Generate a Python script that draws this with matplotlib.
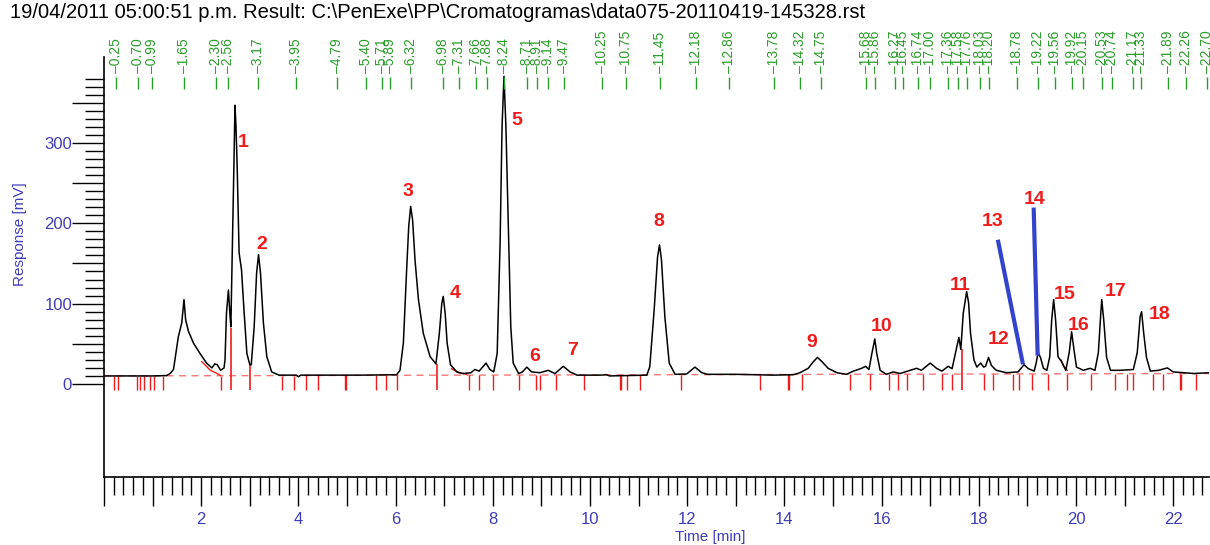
import matplotlib
matplotlib.use("Agg")
import matplotlib.pyplot as plt
from matplotlib.transforms import blended_transform_factory

plt.rcParams['font.family'] = ['Liberation Sans', 'DejaVu Sans']

# chromatogram trace (time in min, response in mV)
trace_t = [0.0, 1.0, 1.29, 1.36, 1.43, 1.53, 1.60, 1.646, 1.68, 1.735, 1.84, 1.975, 2.11, 2.22,
           2.28, 2.33, 2.40, 2.47, 2.49, 2.52, 2.56, 2.59, 2.61, 2.65, 2.675, 2.695, 2.716, 2.74,
           2.78, 2.83, 2.88, 2.94, 3.00, 3.03, 3.09, 3.14, 3.18, 3.22, 3.28, 3.35, 3.45, 3.60,
           3.95, 4.0, 4.05, 5.27, 6.02, 6.09, 6.16, 6.23, 6.27, 6.31, 6.35, 6.40, 6.47, 6.57,
           6.71, 6.83, 6.90, 6.95, 6.98, 7.02, 7.06, 7.13, 7.26, 7.39, 7.55, 7.63, 7.72, 7.86,
           7.94, 8.02, 8.09, 8.15, 8.19, 8.23, 8.27, 8.32, 8.37, 8.42, 8.53, 8.61, 8.70, 8.80,
           8.97, 9.14, 9.28, 9.45, 9.59, 9.73, 10.21, 10.34, 10.40, 11.17, 11.23, 11.32, 11.39,
           11.43, 11.47, 11.54, 11.63, 11.75, 11.99, 12.16, 12.30, 12.42, 13.02, 13.77, 14.18,
           14.32, 14.49, 14.60, 14.68, 14.77, 14.90, 15.08, 15.28, 15.42, 15.59, 15.67, 15.74,
           15.80, 15.86, 15.90, 15.97, 16.10, 16.24, 16.38, 16.72, 16.82, 17.00, 17.13, 17.24,
           17.37, 17.45, 17.54, 17.59, 17.63, 17.68, 17.75, 17.79, 17.83, 17.90, 17.96, 18.04,
           18.10, 18.14, 18.20, 18.26, 18.36, 18.57, 18.81, 18.93, 19.02, 19.14, 19.18, 19.22,
           19.27, 19.33, 19.40, 19.46, 19.50, 19.54, 19.58, 19.63, 19.70, 19.79, 19.86, 19.91,
           19.96, 20.01, 20.15, 20.29, 20.39, 20.46, 20.51, 20.53, 20.57, 20.63, 20.71, 20.90,
           21.18, 21.26, 21.32, 21.35, 21.39, 21.45, 21.53, 21.70, 21.88, 22.0, 22.43, 22.74]
trace_v = [10, 10, 10.5, 13, 18, 59, 76, 105, 80, 66, 51, 38, 26, 20,
           25, 24, 17, 20, 30, 88, 117, 88, 71, 196, 279, 347, 320, 271,
           163, 142, 92, 38, 24, 24, 71, 138, 161, 138, 76, 34, 15, 11,
           11, 9, 11, 11, 11.5, 17, 51, 146, 196, 221, 204, 154, 105, 63,
           34, 25, 63, 100, 109, 88, 51, 24, 15, 13, 14, 18, 16, 26,
           18, 15, 38, 175, 320, 383, 320, 196, 71, 26, 13, 15, 21, 15,
           14, 17, 13, 22, 15, 11, 11, 11.5, 10, 11, 21.5, 92, 158,
           173, 155, 84, 26, 12, 12.5, 21, 14, 12, 12, 11, 11.5,
           14, 19.5, 28, 33, 28, 19.5, 14, 12, 16, 19.5, 22, 18,
           38, 56, 38, 17, 12, 15, 13, 19.5, 17, 26, 19.5, 16,
           22, 19, 44, 58, 43, 88, 115, 101, 63, 30, 21, 26,
           21, 22, 33, 23, 17, 14, 15, 24, 19, 16, 26, 39,
           33, 19.5, 17, 34, 80, 105, 80, 34, 28, 17, 39, 65,
           42, 21, 17, 19.5, 17, 39, 88, 105, 80, 33, 17, 17,
           18, 39, 84, 90, 65, 33, 16, 17, 20, 15, 13, 14]

# retention times printed along the top
rt_labels = ['0.25', '0.70', '0.99', '1.65', '2.30', '2.56', '3.17', '3.95', '4.79', '5.40',
             '5.71', '5.89', '6.32', '6.98', '7.31', '7.66', '7.88', '8.24', '8.71', '8.91',
             '9.14', '9.47', '10.25', '10.75', '11.45', '12.18', '12.86', '13.78', '14.32',
             '14.75', '15.68', '15.86', '16.27', '16.45', '16.74', '17.00', '17.36', '17.58',
             '17.76', '18.03', '18.20', '18.78', '19.22', '19.56', '19.92', '20.15', '20.53',
             '20.74', '21.17', '21.33', '21.89', '22.26', '22.70']

# peak start / end markers below the baseline
marks_t = [0.20, 0.28, 0.67, 0.75, 0.83, 0.95, 1.02, 1.21, 2.40, 3.66, 3.90, 4.15, 4.41,
           4.96, 4.98, 5.59, 5.81, 6.03, 7.51, 7.72, 8.01, 8.54, 8.88, 8.98, 9.31, 9.88,
           10.61, 10.63, 10.76, 11.03, 11.87, 13.49, 14.08, 14.10, 14.37, 15.36, 15.76,
           16.16, 16.34, 16.52, 16.85, 17.24, 17.44, 18.11, 18.29, 18.70, 18.82, 19.09,
           19.43, 19.82, 20.30, 20.80, 21.04, 21.18, 21.58, 21.78, 22.14, 22.16, 22.47]
# drop lines at valleys (time, top)
drop_t = [2.62, 3.01, 6.85, 17.65]
drop_top = [70, 24, 25, 43]

# peak numbers
peak_names = [str(i) for i in range(1, 19)]
peak_t = [2.86, 3.25, 6.26, 7.22, 8.50, 8.87, 9.65, 11.42, 14.57, 15.99, 17.61, 18.40,
          18.29, 19.14, 19.77, 20.06, 20.82, 21.73]
peak_v = [300, 173, 240, 112, 328, 34, 42, 202, 51, 71, 123, 55, 202, 230, 111, 73, 115, 86]

# blue pointer lines for peaks 13 and 14
ptr13_t = [18.40, 18.90]
ptr13_v = [177, 27]
ptr14_t = [19.13, 19.21]
ptr14_v = [217, 38]

# skimmed baseline pieces
skim = [([2.01, 2.19, 2.39], [27.8, 17, 11]),
        ([7.15, 7.30, 7.46], [19, 14, 12]),
        ([19.69, 19.75, 19.82], [30, 22, 17])]

blue = '#3d3db8'
green = '#2a9d2a'
red = '#ee1c1c'

fig = plt.figure(figsize=(12.1, 5.45), dpi=100)
ax = fig.add_axes([104 / 1210, 1 - 477 / 545, 1105 / 1210, 420 / 545])
x_max = 1105 / 48.6
ax.set_xlim(0, x_max)
ax.set_ylim(-115.8, 407)

def base(t):
    return 10 + 3 * t / x_max

# baseline
ax.plot([0, x_max], [base(0), base(x_max)], color=red, lw=1, ls=(0, (5, 4)), alpha=0.6)
for st, sv in skim:
    ax.plot(st, sv, color=red, lw=1)
ax.vlines(marks_t, -7, [base(t) for t in marks_t], color=red, lw=1)
ax.vlines(drop_t, -7, drop_top, color=red, lw=1.2)

ax.plot(trace_t, trace_v, color='black', lw=1.1)

ax.plot(ptr13_t, ptr13_v, color='#3344cc', lw=3)
ax.plot(ptr14_t, ptr14_v, color='#3344cc', lw=3)

for name, t, v in zip(peak_names, peak_t, peak_v):
    ax.text(t, v, name, color=red, fontsize=14, fontweight='bold', ha='center', va='center')

# retention time markers on top
rt_vals = [float(s) for s in rt_labels]
ax.vlines(rt_vals, 367, 382, color=green, lw=1)
trans = blended_transform_factory(ax.transData, fig.transFigure)
for s, t in zip(rt_labels, rt_vals):
    ax.text(t, 1 - 73 / 545, '\u2013' + s, rotation=90, color=green, fontsize=10,
            ha='center', va='bottom', transform=trans, clip_on=False)

# axes styling
for side in ['top', 'right']:
    ax.spines[side].set_visible(False)
ax.spines['left'].set_linewidth(1.2)
ax.spines['bottom'].set_linewidth(1.2)

ax.set_yticks(list(range(0, 351, 50)))
ax.set_yticklabels(['0', '', '100', '', '200', '', '300', ''])
ax.set_yticks(list(range(0, 381, 10)), minor=True)
ax.tick_params(axis='y', which='major', length=23, width=1, direction='out', pad=0,
               labelcolor=blue, labelsize=12)
ax.tick_params(axis='y', which='minor', length=14, width=1, direction='out')

ax.set_xticks(list(range(0, 23)))
ax.set_xticklabels([str(i) if i % 2 == 0 and i > 0 else '' for i in range(0, 23)])
ax.set_xticks([i * 0.2 for i in range(0, 114)], minor=True)
ax.tick_params(axis='x', which='major', length=21, width=1, direction='out', pad=4,
               labelcolor=blue, labelsize=12)
ax.tick_params(axis='x', which='minor', length=13, width=1, direction='out')

fig.text(20 / 1210, 1 - 234 / 545, 'Response [mV]', rotation=90, color=blue, fontsize=11,
         ha='center', va='center')
fig.text(710 / 1210, 1 - 537 / 545, 'Time [min]', color=blue, fontsize=11,
         ha='center', va='center')
fig.text(10 / 1210, 1 - 13 / 545,
         '19/04/2011 05:00:51 p.m. Result: C:\\PenExe\\PP\\Cromatogramas\\data075-20110419-145328.rst',
         fontsize=14.5, ha='left', va='center', color='black')

fig.savefig('out.png', dpi=100)
